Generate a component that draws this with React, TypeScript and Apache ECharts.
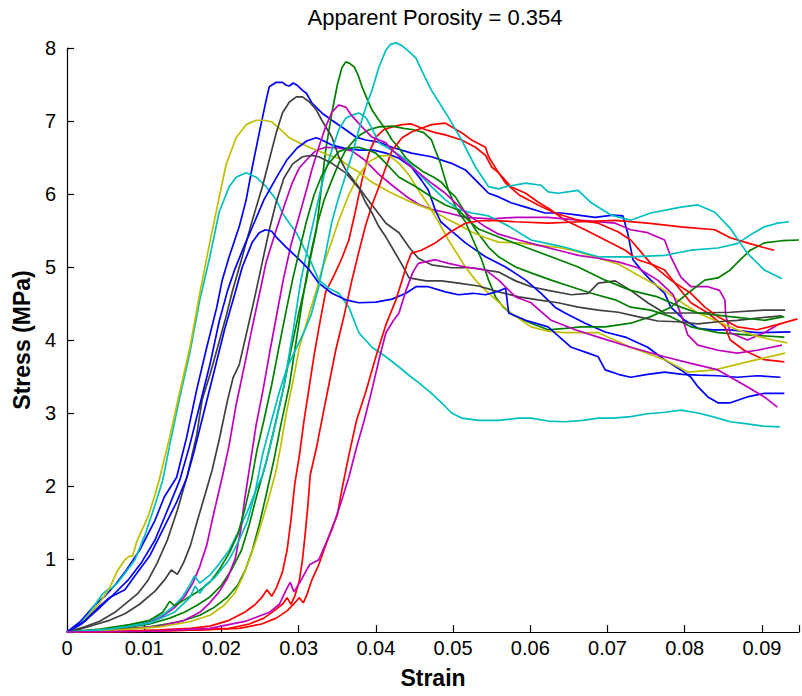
import React, { useEffect, useRef } from "react";
import * as echarts from "echarts";

type Pt = [number, number];

const TITLE = "Apparent Porosity = 0.354";
const X_NAME = "Strain";
const Y_NAME = "Stress (MPa)";
const X_TICKS = [0, 0.01, 0.02, 0.03, 0.04, 0.05, 0.06, 0.07, 0.08, 0.09];
const Y_TICKS = [1, 2, 3, 4, 5, 6, 7, 8];

const BLUE = "#0000ff";
const GREEN = "#008000";
const RED = "#ff0000";
const CYAN = "#00bfbf";
const MAGENTA = "#bf00bf";
const YELLOW = "#bfbf00";
const GRAY = "#404040";

const blueA: Pt[] = [[0,0],[0.0017,0.14],[0.0036,0.37],[0.0049,0.49],[0.0062,0.64],[0.0075,0.82],[0.0094,1.12],[0.0114,1.53],[0.0126,1.85],[0.0142,2.12],[0.0155,2.67],[0.0168,3.32],[0.0181,3.90],[0.0194,4.45],[0.0201,4.82],[0.0210,5.14],[0.0223,5.55],[0.0232,5.92],[0.0240,6.37],[0.0249,6.84],[0.0258,7.29],[0.0262,7.47],[0.0271,7.53],[0.0279,7.53],[0.0284,7.49],[0.0288,7.48],[0.0293,7.52],[0.0298,7.49],[0.0305,7.42],[0.0310,7.38],[0.0317,7.25],[0.0330,7.11],[0.0343,7.01],[0.0361,6.88],[0.0374,6.78],[0.0387,6.74],[0.0404,6.71],[0.0421,6.64],[0.0446,6.56],[0.0472,6.51],[0.0498,6.42],[0.0516,6.33],[0.0533,6.15],[0.0546,6.01],[0.0559,5.96],[0.0575,5.88],[0.0594,5.82],[0.0619,5.74],[0.0640,5.74],[0.0662,5.71],[0.0684,5.68],[0.0707,5.71],[0.0720,5.70],[0.0726,5.47],[0.0733,5.10],[0.0746,4.93],[0.0756,4.82],[0.0774,4.64],[0.0782,4.45],[0.0800,4.27],[0.0817,4.16],[0.0836,4.14],[0.0859,4.14],[0.0894,4.10],[0.0937,4.11]];

const greenA: Pt[] = [[0,0],[0.0043,0.03],[0.0081,0.07],[0.0107,0.11],[0.0133,0.19],[0.0152,0.27],[0.0169,0.37],[0.0185,0.48],[0.0200,0.64],[0.0213,0.85],[0.0226,1.12],[0.0236,1.47],[0.0246,1.88],[0.0257,2.29],[0.0268,2.77],[0.0280,3.32],[0.0290,3.86],[0.0301,4.41],[0.0310,4.82],[0.0316,5.16],[0.0323,5.51],[0.0329,6.05],[0.0335,6.60],[0.0343,7.11],[0.0350,7.49],[0.0356,7.73],[0.0361,7.81],[0.0366,7.79],[0.0372,7.74],[0.0377,7.63],[0.0382,7.47],[0.0388,7.32],[0.0395,7.15],[0.0404,7.01],[0.0413,6.88],[0.0421,6.74],[0.0430,6.63],[0.0439,6.49],[0.0449,6.40],[0.0462,6.30],[0.0475,6.23],[0.0485,6.16],[0.0494,6.05],[0.0503,5.96],[0.0516,5.74],[0.0529,5.51],[0.0546,5.27],[0.0559,5.14],[0.0581,5.00],[0.0601,4.92],[0.0627,4.82],[0.0653,4.73],[0.0679,4.64],[0.0710,4.55],[0.0730,4.45],[0.0756,4.41],[0.0782,4.32],[0.0808,4.18],[0.0843,4.10],[0.0881,4.07],[0.0929,4.04]];

const redA: Pt[] = [[0,0],[0.0068,0.01],[0.0120,0.03],[0.0159,0.05],[0.0185,0.08],[0.0210,0.16],[0.0230,0.27],[0.0243,0.37],[0.0252,0.47],[0.0259,0.58],[0.0265,0.49],[0.0271,0.60],[0.0279,0.82],[0.0285,1.12],[0.0290,1.53],[0.0295,2.03],[0.0301,2.42],[0.0307,2.90],[0.0314,3.38],[0.0320,3.79],[0.0328,4.27],[0.0335,4.66],[0.0346,4.89],[0.0356,5.12],[0.0365,5.37],[0.0373,5.74],[0.0382,6.19],[0.0391,6.56],[0.0400,6.78],[0.0410,6.88],[0.0421,6.92],[0.0434,6.95],[0.0446,6.96],[0.0455,6.92],[0.0465,6.88],[0.0477,6.84],[0.0490,6.81],[0.0511,6.74],[0.0529,6.64],[0.0542,6.53],[0.0550,6.37],[0.0559,6.29],[0.0575,6.10],[0.0594,6.01],[0.0610,5.89],[0.0627,5.78],[0.0645,5.64],[0.0671,5.51],[0.0697,5.37],[0.0723,5.23],[0.0739,5.10],[0.0759,5.03],[0.0774,4.96],[0.0791,4.73],[0.0808,4.51],[0.0830,4.37],[0.0852,4.18],[0.0859,4.00],[0.0877,3.86],[0.0903,3.73],[0.0929,3.70]];

const cyanA: Pt[] = [[0,0],[0.0014,0.08],[0.0027,0.23],[0.0036,0.37],[0.0046,0.52],[0.0053,0.58],[0.0058,0.60],[0.0066,0.68],[0.0076,0.82],[0.0088,0.99],[0.0101,1.33],[0.0114,1.74],[0.0124,2.08],[0.0133,2.56],[0.0146,3.21],[0.0159,3.82],[0.0172,4.55],[0.0185,5.14],[0.0197,5.75],[0.0210,6.10],[0.0219,6.23],[0.0232,6.29],[0.0245,6.23],[0.0258,6.10],[0.0271,5.92],[0.0279,5.74],[0.0288,5.60],[0.0297,5.47],[0.0307,5.26],[0.0316,5.07],[0.0326,4.82],[0.0339,4.71],[0.0352,4.64],[0.0365,4.45],[0.0378,4.10],[0.0395,3.90],[0.0413,3.77],[0.0430,3.63],[0.0446,3.49],[0.0455,3.42],[0.0472,3.27],[0.0488,3.11],[0.0498,3.00],[0.0511,2.93],[0.0533,2.90],[0.0559,2.90],[0.0585,2.93],[0.0601,2.93],[0.0623,2.89],[0.0645,2.88],[0.0668,2.90],[0.0688,2.93],[0.0707,2.93],[0.0730,2.95],[0.0752,2.99],[0.0774,3.01],[0.0795,3.04],[0.0817,3.00],[0.0836,2.95],[0.0859,2.88],[0.0881,2.85],[0.0901,2.82],[0.0923,2.81]];

const magentaA: Pt[] = [[0,0],[0.0055,0.03],[0.0094,0.10],[0.0120,0.19],[0.0139,0.33],[0.0152,0.48],[0.0163,0.67],[0.0172,0.90],[0.0181,1.19],[0.0188,1.53],[0.0195,1.85],[0.0201,2.12],[0.0210,2.56],[0.0219,3.11],[0.0230,3.66],[0.0240,4.18],[0.0249,4.62],[0.0258,5.07],[0.0271,5.51],[0.0284,5.92],[0.0292,6.16],[0.0301,6.36],[0.0314,6.51],[0.0323,6.60],[0.0335,6.64],[0.0352,6.63],[0.0369,6.59],[0.0385,6.47],[0.0404,6.27],[0.0421,6.12],[0.0439,5.97],[0.0455,5.86],[0.0472,5.79],[0.0494,5.74],[0.0516,5.68],[0.0550,5.66],[0.0581,5.68],[0.0623,5.68],[0.0666,5.64],[0.0710,5.60],[0.0730,5.51],[0.0752,5.47],[0.0774,5.37],[0.0782,5.14],[0.0795,4.86],[0.0808,4.73],[0.0830,4.73],[0.0845,4.68],[0.0852,4.55],[0.0853,4.34],[0.0859,4.10],[0.0881,4.00],[0.0903,4.10],[0.0924,4.23]];

const yellowA: Pt[] = [[0,0],[0.0010,0.05],[0.0023,0.16],[0.0034,0.30],[0.0043,0.41],[0.0055,0.60],[0.0066,0.85],[0.0075,0.99],[0.0081,1.04],[0.0085,1.04],[0.0090,1.23],[0.0105,1.58],[0.0114,1.88],[0.0120,2.11],[0.0133,2.67],[0.0146,3.29],[0.0159,3.89],[0.0172,4.64],[0.0185,5.34],[0.0197,5.95],[0.0206,6.40],[0.0219,6.77],[0.0232,6.95],[0.0245,7.01],[0.0255,7.01],[0.0265,6.99],[0.0275,6.90],[0.0288,6.77],[0.0301,6.70],[0.0316,6.63],[0.0326,6.59],[0.0339,6.53],[0.0352,6.49],[0.0365,6.38],[0.0378,6.30],[0.0395,6.16],[0.0417,6.03],[0.0439,5.92],[0.0455,5.85],[0.0472,5.78],[0.0490,5.67],[0.0507,5.58],[0.0524,5.48],[0.0542,5.40],[0.0559,5.34],[0.0585,5.33],[0.0610,5.30],[0.0636,5.27],[0.0662,5.21],[0.0688,5.12],[0.0714,5.04],[0.0739,4.89],[0.0765,4.74],[0.0791,4.55],[0.0817,4.37],[0.0843,4.25],[0.0868,4.14],[0.0894,4.05],[0.0914,4.00],[0.0933,3.96]];

const grayA: Pt[] = [[0,0],[0.0023,0.07],[0.0043,0.15],[0.0062,0.27],[0.0077,0.40],[0.0092,0.53],[0.0105,0.71],[0.0117,0.95],[0.0130,1.26],[0.0143,1.67],[0.0156,2.15],[0.0168,2.70],[0.0175,3.18],[0.0185,3.52],[0.0194,3.86],[0.0206,4.32],[0.0214,4.66],[0.0227,5.14],[0.0240,5.64],[0.0253,6.10],[0.0262,6.47],[0.0271,6.84],[0.0279,7.11],[0.0288,7.26],[0.0297,7.33],[0.0305,7.33],[0.0314,7.26],[0.0323,7.15],[0.0330,7.01],[0.0343,6.78],[0.0352,6.51],[0.0361,6.33],[0.0374,6.15],[0.0387,5.96],[0.0400,5.78],[0.0413,5.60],[0.0430,5.47],[0.0443,5.27],[0.0455,5.12],[0.0472,5.03],[0.0498,4.99],[0.0524,4.99],[0.0559,4.93],[0.0581,4.81],[0.0601,4.73],[0.0623,4.68],[0.0653,4.62],[0.0675,4.64],[0.0688,4.78],[0.0710,4.81],[0.0730,4.68],[0.0752,4.51],[0.0774,4.37],[0.0817,4.37],[0.0859,4.38],[0.0903,4.41],[0.0930,4.41]];

const blueB: Pt[] = [[0,0],[0.0019,0.11],[0.0039,0.30],[0.0058,0.49],[0.0079,0.71],[0.0097,0.96],[0.0114,1.26],[0.0129,1.64],[0.0146,2.08],[0.0159,2.56],[0.0172,3.11],[0.0185,3.66],[0.0197,4.25],[0.0208,4.68],[0.0217,4.96],[0.0230,5.30],[0.0243,5.62],[0.0255,5.92],[0.0271,6.22],[0.0285,6.47],[0.0298,6.63],[0.0311,6.73],[0.0323,6.77],[0.0330,6.74],[0.0343,6.67],[0.0359,6.63],[0.0378,6.60],[0.0397,6.60],[0.0413,6.56],[0.0430,6.49],[0.0446,6.37],[0.0459,6.19],[0.0468,6.05],[0.0477,5.78],[0.0484,5.62],[0.0494,5.53],[0.0516,5.33],[0.0542,5.14],[0.0568,5.00],[0.0594,4.82],[0.0614,4.64],[0.0632,4.45],[0.0645,4.37],[0.0671,4.23],[0.0697,4.11],[0.0723,4.04],[0.0752,3.90],[0.0774,3.73],[0.0795,3.59],[0.0808,3.49],[0.0817,3.36],[0.0830,3.22],[0.0843,3.14],[0.0859,3.14],[0.0881,3.22],[0.0903,3.27],[0.0929,3.27]];

const greenB: Pt[] = [[0,0],[0.0055,0.03],[0.0107,0.07],[0.0146,0.14],[0.0172,0.23],[0.0191,0.34],[0.0208,0.48],[0.0221,0.64],[0.0231,0.85],[0.0240,1.12],[0.0249,1.47],[0.0258,1.88],[0.0268,2.36],[0.0277,2.84],[0.0288,3.38],[0.0297,4.00],[0.0305,4.55],[0.0314,5.10],[0.0324,5.58],[0.0333,5.92],[0.0343,6.19],[0.0352,6.42],[0.0361,6.60],[0.0372,6.74],[0.0381,6.82],[0.0391,6.88],[0.0404,6.92],[0.0421,6.93],[0.0436,6.90],[0.0449,6.88],[0.0462,6.84],[0.0472,6.74],[0.0477,6.60],[0.0483,6.44],[0.0488,6.26],[0.0494,6.05],[0.0501,5.88],[0.0507,5.75],[0.0516,5.62],[0.0526,5.37],[0.0537,5.10],[0.0546,4.82],[0.0555,4.59],[0.0565,4.45],[0.0578,4.34],[0.0601,4.23],[0.0623,4.14],[0.0645,4.16],[0.0666,4.18],[0.0697,4.18],[0.0730,4.23],[0.0756,4.32],[0.0782,4.45],[0.0804,4.64],[0.0826,4.82],[0.0843,4.85],[0.0859,4.96],[0.0872,5.10],[0.0885,5.23],[0.0903,5.33],[0.0926,5.36],[0.0948,5.37]];

const redB: Pt[] = [[0,0],[0.0107,0.01],[0.0172,0.03],[0.0210,0.05],[0.0236,0.11],[0.0255,0.19],[0.0268,0.29],[0.0279,0.38],[0.0285,0.47],[0.0290,0.38],[0.0295,0.49],[0.0301,0.71],[0.0305,0.99],[0.0309,1.40],[0.0312,1.74],[0.0315,2.15],[0.0323,2.52],[0.0330,2.90],[0.0339,3.38],[0.0348,3.86],[0.0359,4.34],[0.0369,4.82],[0.0378,5.21],[0.0387,5.58],[0.0395,5.85],[0.0404,6.10],[0.0413,6.37],[0.0421,6.60],[0.0434,6.77],[0.0446,6.85],[0.0459,6.90],[0.0472,6.95],[0.0490,6.97],[0.0498,6.92],[0.0511,6.84],[0.0524,6.74],[0.0542,6.64],[0.0546,6.51],[0.0559,6.29],[0.0568,6.15],[0.0585,5.99],[0.0610,5.85],[0.0632,5.74],[0.0662,5.64],[0.0688,5.60],[0.0714,5.48],[0.0730,5.37],[0.0743,5.21],[0.0756,5.05],[0.0782,4.82],[0.0808,4.64],[0.0826,4.45],[0.0843,4.32],[0.0868,4.18],[0.0894,4.14],[0.0920,4.21],[0.0946,4.29]];

const cyanB: Pt[] = [[0,0],[0.0043,0.03],[0.0081,0.08],[0.0107,0.15],[0.0126,0.25],[0.0139,0.36],[0.0150,0.49],[0.0159,0.64],[0.0165,0.77],[0.0172,0.67],[0.0185,0.78],[0.0197,0.93],[0.0210,1.12],[0.0223,1.40],[0.0236,1.71],[0.0245,1.95],[0.0253,2.14],[0.0262,2.49],[0.0271,2.90],[0.0281,3.38],[0.0292,4.07],[0.0303,4.82],[0.0314,5.37],[0.0324,5.85],[0.0333,6.26],[0.0343,6.60],[0.0352,6.88],[0.0361,7.04],[0.0369,7.08],[0.0378,7.11],[0.0387,7.05],[0.0395,6.90],[0.0404,6.70],[0.0421,6.60],[0.0439,6.47],[0.0455,6.29],[0.0472,6.10],[0.0490,5.92],[0.0507,5.79],[0.0524,5.74],[0.0546,5.70],[0.0572,5.56],[0.0601,5.37],[0.0623,5.32],[0.0645,5.27],[0.0671,5.19],[0.0688,5.14],[0.0705,5.14],[0.0730,5.14],[0.0752,5.15],[0.0774,5.16],[0.0808,5.23],[0.0843,5.26],[0.0868,5.32],[0.0885,5.44],[0.0903,5.55],[0.0920,5.60],[0.0935,5.62]];

const magentaB: Pt[] = [[0,0],[0.0068,0.03],[0.0120,0.08],[0.0152,0.16],[0.0172,0.27],[0.0185,0.40],[0.0197,0.55],[0.0208,0.74],[0.0218,1.01],[0.0225,1.40],[0.0230,1.81],[0.0236,2.22],[0.0245,2.84],[0.0254,3.32],[0.0263,3.86],[0.0272,4.37],[0.0280,4.82],[0.0290,5.30],[0.0301,5.71],[0.0310,6.05],[0.0317,6.33],[0.0326,6.64],[0.0335,6.92],[0.0343,7.12],[0.0352,7.22],[0.0361,7.19],[0.0369,7.07],[0.0382,6.92],[0.0395,6.78],[0.0413,6.70],[0.0421,6.60],[0.0446,6.37],[0.0472,6.15],[0.0490,6.01],[0.0503,5.88],[0.0520,5.71],[0.0542,5.55],[0.0559,5.45],[0.0585,5.37],[0.0610,5.30],[0.0636,5.23],[0.0662,5.16],[0.0688,5.12],[0.0714,5.07],[0.0739,4.99],[0.0765,4.82],[0.0785,4.62],[0.0797,4.30],[0.0804,4.07],[0.0817,3.93],[0.0843,3.86],[0.0868,3.82],[0.0894,3.86],[0.0926,3.93]];

const yellowB: Pt[] = [[0,0],[0.0068,0.03],[0.0120,0.07],[0.0159,0.14],[0.0185,0.23],[0.0204,0.37],[0.0217,0.53],[0.0227,0.74],[0.0236,0.99],[0.0245,1.26],[0.0253,1.53],[0.0262,1.86],[0.0271,2.22],[0.0277,2.56],[0.0284,3.00],[0.0293,3.45],[0.0301,3.90],[0.0314,4.37],[0.0323,4.68],[0.0330,4.96],[0.0339,5.23],[0.0352,5.64],[0.0365,5.99],[0.0378,6.26],[0.0391,6.44],[0.0404,6.52],[0.0417,6.53],[0.0430,6.42],[0.0443,6.26],[0.0455,6.05],[0.0468,5.85],[0.0481,5.62],[0.0494,5.37],[0.0507,5.15],[0.0516,5.00],[0.0529,4.82],[0.0542,4.68],[0.0559,4.52],[0.0575,4.37],[0.0601,4.18],[0.0623,4.12],[0.0645,4.10],[0.0688,4.10],[0.0730,3.90],[0.0774,3.73],[0.0804,3.56],[0.0839,3.59],[0.0881,3.70],[0.0930,3.82]];

const grayB: Pt[] = [[0,0],[0.0017,0.04],[0.0036,0.10],[0.0055,0.16],[0.0075,0.25],[0.0094,0.38],[0.0114,0.56],[0.0126,0.71],[0.0135,0.85],[0.0143,0.79],[0.0151,0.95],[0.0160,1.19],[0.0169,1.53],[0.0179,1.89],[0.0188,2.22],[0.0197,2.63],[0.0208,3.18],[0.0215,3.48],[0.0223,3.66],[0.0232,4.07],[0.0243,4.58],[0.0253,5.07],[0.0262,5.51],[0.0271,5.89],[0.0281,6.22],[0.0292,6.41],[0.0305,6.51],[0.0317,6.53],[0.0326,6.51],[0.0343,6.42],[0.0361,6.29],[0.0378,6.08],[0.0387,5.88],[0.0395,5.74],[0.0404,5.55],[0.0413,5.41],[0.0423,5.23],[0.0434,5.03],[0.0443,4.85],[0.0465,4.81],[0.0485,4.81],[0.0507,4.78],[0.0533,4.74],[0.0559,4.66],[0.0585,4.59],[0.0610,4.55],[0.0636,4.51],[0.0662,4.45],[0.0688,4.41],[0.0714,4.38],[0.0739,4.32],[0.0765,4.26],[0.0791,4.25],[0.0817,4.22],[0.0843,4.25],[0.0868,4.27],[0.0894,4.30],[0.0926,4.33]];

const blueC: Pt[] = [[0,0],[0.0023,0.15],[0.0043,0.36],[0.0055,0.47],[0.0066,0.53],[0.0075,0.58],[0.0088,0.77],[0.0107,1.04],[0.0126,1.44],[0.0142,1.78],[0.0155,2.11],[0.0165,2.49],[0.0178,3.04],[0.0191,3.59],[0.0204,4.14],[0.0217,4.62],[0.0227,5.00],[0.0240,5.34],[0.0249,5.47],[0.0257,5.51],[0.0265,5.49],[0.0271,5.41],[0.0284,5.27],[0.0292,5.19],[0.0301,5.10],[0.0314,4.96],[0.0326,4.78],[0.0343,4.64],[0.0361,4.55],[0.0378,4.51],[0.0400,4.52],[0.0421,4.56],[0.0439,4.64],[0.0452,4.73],[0.0468,4.73],[0.0490,4.66],[0.0507,4.62],[0.0526,4.64],[0.0542,4.62],[0.0559,4.67],[0.0568,4.71],[0.0572,4.37],[0.0594,4.27],[0.0623,4.18],[0.0653,3.90],[0.0675,3.82],[0.0688,3.77],[0.0697,3.59],[0.0714,3.53],[0.0730,3.49],[0.0752,3.53],[0.0774,3.56],[0.0797,3.53],[0.0817,3.52],[0.0843,3.51],[0.0868,3.49],[0.0894,3.51],[0.0924,3.49]];

const greenC: Pt[] = [[0,0],[0.0043,0.04],[0.0081,0.10],[0.0107,0.16],[0.0124,0.27],[0.0133,0.42],[0.0139,0.36],[0.0152,0.44],[0.0169,0.55],[0.0185,0.68],[0.0197,0.85],[0.0210,1.08],[0.0221,1.33],[0.0230,1.67],[0.0239,2.08],[0.0246,2.49],[0.0255,2.90],[0.0265,3.38],[0.0275,3.93],[0.0284,4.41],[0.0292,4.82],[0.0301,5.23],[0.0310,5.62],[0.0320,5.99],[0.0329,6.23],[0.0339,6.42],[0.0352,6.58],[0.0365,6.63],[0.0378,6.64],[0.0391,6.60],[0.0400,6.56],[0.0413,6.42],[0.0430,6.23],[0.0452,6.10],[0.0472,5.96],[0.0490,5.85],[0.0507,5.78],[0.0520,5.64],[0.0533,5.52],[0.0559,5.41],[0.0594,5.27],[0.0627,5.14],[0.0662,5.00],[0.0697,4.82],[0.0730,4.68],[0.0765,4.59],[0.0795,4.45],[0.0817,4.37],[0.0859,4.32],[0.0903,4.27],[0.0929,4.32]];

const redC: Pt[] = [[0,0],[0.0107,0.01],[0.0172,0.03],[0.0223,0.05],[0.0252,0.11],[0.0271,0.19],[0.0285,0.29],[0.0295,0.40],[0.0301,0.47],[0.0306,0.40],[0.0311,0.52],[0.0317,0.71],[0.0326,0.92],[0.0335,1.19],[0.0343,1.42],[0.0350,1.60],[0.0356,1.95],[0.0365,2.42],[0.0375,2.90],[0.0387,3.29],[0.0400,3.77],[0.0413,4.21],[0.0426,4.55],[0.0434,4.82],[0.0440,5.03],[0.0446,5.19],[0.0459,5.23],[0.0477,5.33],[0.0498,5.49],[0.0516,5.60],[0.0533,5.63],[0.0550,5.64],[0.0581,5.62],[0.0623,5.60],[0.0666,5.62],[0.0710,5.64],[0.0752,5.60],[0.0795,5.55],[0.0839,5.51],[0.0859,5.40],[0.0881,5.33],[0.0901,5.27],[0.0916,5.23]];

const cyanC: Pt[] = [[0,0],[0.0055,0.04],[0.0107,0.12],[0.0139,0.27],[0.0159,0.47],[0.0166,0.63],[0.0172,0.53],[0.0179,0.64],[0.0191,0.74],[0.0210,0.99],[0.0223,1.26],[0.0234,1.53],[0.0243,1.88],[0.0253,2.42],[0.0265,2.90],[0.0275,3.29],[0.0285,3.62],[0.0297,3.89],[0.0307,4.11],[0.0316,4.34],[0.0326,4.73],[0.0335,5.19],[0.0343,5.62],[0.0352,5.96],[0.0361,6.26],[0.0369,6.53],[0.0378,6.88],[0.0387,7.19],[0.0395,7.42],[0.0404,7.74],[0.0413,7.97],[0.0419,8.05],[0.0426,8.07],[0.0434,8.03],[0.0443,7.95],[0.0452,7.86],[0.0459,7.70],[0.0472,7.42],[0.0484,7.22],[0.0494,7.05],[0.0511,6.74],[0.0529,6.37],[0.0546,6.10],[0.0559,6.07],[0.0568,6.10],[0.0594,6.15],[0.0614,6.12],[0.0623,6.03],[0.0636,6.01],[0.0662,6.05],[0.0679,5.88],[0.0705,5.71],[0.0730,5.64],[0.0756,5.74],[0.0795,5.82],[0.0817,5.85],[0.0839,5.75],[0.0859,5.53],[0.0881,5.19],[0.0903,4.96],[0.0926,4.84]];

const magentaC: Pt[] = [[0,0],[0.0107,0.01],[0.0185,0.05],[0.0232,0.15],[0.0262,0.27],[0.0275,0.38],[0.0284,0.58],[0.0289,0.68],[0.0294,0.55],[0.0301,0.67],[0.0314,0.92],[0.0326,0.99],[0.0343,1.40],[0.0356,1.81],[0.0365,2.12],[0.0375,2.53],[0.0385,2.90],[0.0395,3.32],[0.0404,3.73],[0.0413,4.10],[0.0423,4.27],[0.0430,4.37],[0.0439,4.68],[0.0448,4.93],[0.0455,5.05],[0.0477,5.10],[0.0494,5.05],[0.0516,5.00],[0.0542,4.96],[0.0559,4.82],[0.0581,4.59],[0.0601,4.51],[0.0627,4.27],[0.0658,4.14],[0.0688,4.04],[0.0730,3.90],[0.0774,3.77],[0.0808,3.68],[0.0843,3.59],[0.0881,3.36],[0.0903,3.22],[0.0920,3.08]];

const CURVES: { color: string; data: Pt[] }[] = [
  { color: BLUE, data: blueA },
  { color: GREEN, data: greenA },
  { color: RED, data: redA },
  { color: CYAN, data: cyanA },
  { color: MAGENTA, data: magentaA },
  { color: YELLOW, data: yellowA },
  { color: GRAY, data: grayA },
  { color: BLUE, data: blueB },
  { color: GREEN, data: greenB },
  { color: RED, data: redB },
  { color: CYAN, data: cyanB },
  { color: MAGENTA, data: magentaB },
  { color: YELLOW, data: yellowB },
  { color: GRAY, data: grayB },
  { color: BLUE, data: blueC },
  { color: GREEN, data: greenC },
  { color: RED, data: redC },
  { color: CYAN, data: cyanC },
  { color: MAGENTA, data: magentaC },
];

const FONT = "'Liberation Sans', Arial, Helvetica, sans-serif";

export default function App() {
  const ref = useRef<HTMLDivElement>(null);
  useEffect(() => {
    if (!ref.current) return;
    const chart = echarts.init(ref.current, undefined, { renderer: "svg" });
    chart.setOption({
      animation: false,
      backgroundColor: "#ffffff",
      title: {
        text: TITLE,
        left: 435,
        top: 6,
        padding: 0,
        textAlign: "center",
        textStyle: { fontFamily: FONT, fontSize: 22, fontWeight: "normal", color: "#000" },
      },
      grid: { left: 67, right: 0, top: 48, bottom: 64, containLabel: false },
      xAxis: {
        type: "value",
        min: 0,
        max: 0.0948,
        interval: 0.01,
        name: X_NAME,
        nameLocation: "middle",
        nameGap: 34,
        nameTextStyle: { fontFamily: FONT, fontSize: 23, fontWeight: "bold", color: "#000" },
        axisLine: { show: true, onZero: false, lineStyle: { color: "#000", width: 1.2 } },
        axisTick: { show: true, inside: true, length: 7, lineStyle: { color: "#000", width: 1.2 } },
        axisLabel: {
          fontFamily: FONT,
          fontSize: 20,
          color: "#000",
          margin: 6,
          formatter: (v: number) => {
            const hit = X_TICKS.find((t) => Math.abs(t - v) < 1e-7);
            if (hit === undefined) return "";
            return hit === 0 ? "0" : hit.toFixed(2);
          },
        },
        splitLine: { show: false },
      },
      yAxis: {
        type: "value",
        min: 0,
        max: 8,
        interval: 1,
        name: Y_NAME,
        nameLocation: "middle",
        nameGap: 30,
        nameTextStyle: { fontFamily: FONT, fontSize: 23, fontWeight: "bold", color: "#000" },
        axisLine: { show: true, onZero: false, lineStyle: { color: "#000", width: 1.2 } },
        axisTick: { show: true, inside: true, length: 7, lineStyle: { color: "#000", width: 1.2 } },
        axisLabel: {
          fontFamily: FONT,
          fontSize: 20,
          color: "#000",
          margin: 11,
          formatter: (v: number) => {
            const hit = Y_TICKS.find((t) => Math.abs(t - v) < 1e-7);
            return hit === undefined ? "" : String(hit);
          },
        },
        splitLine: { show: false },
      },
      series: CURVES.map((c, i) => ({
        type: "line",
        data: c.data,
        showSymbol: false,
        symbol: "none",
        clip: false,
        silent: true,
        z: 2 + i * 0.01,
        lineStyle: { color: c.color, width: 1.7 },
        itemStyle: { color: c.color },
      })),
    });
    return () => chart.dispose();
  }, []);
  return (
    <div
      ref={ref}
      style={{ position: "absolute", left: 0, top: 0, width: 802, height: 696, background: "#fff" }}
    />
  );
}
